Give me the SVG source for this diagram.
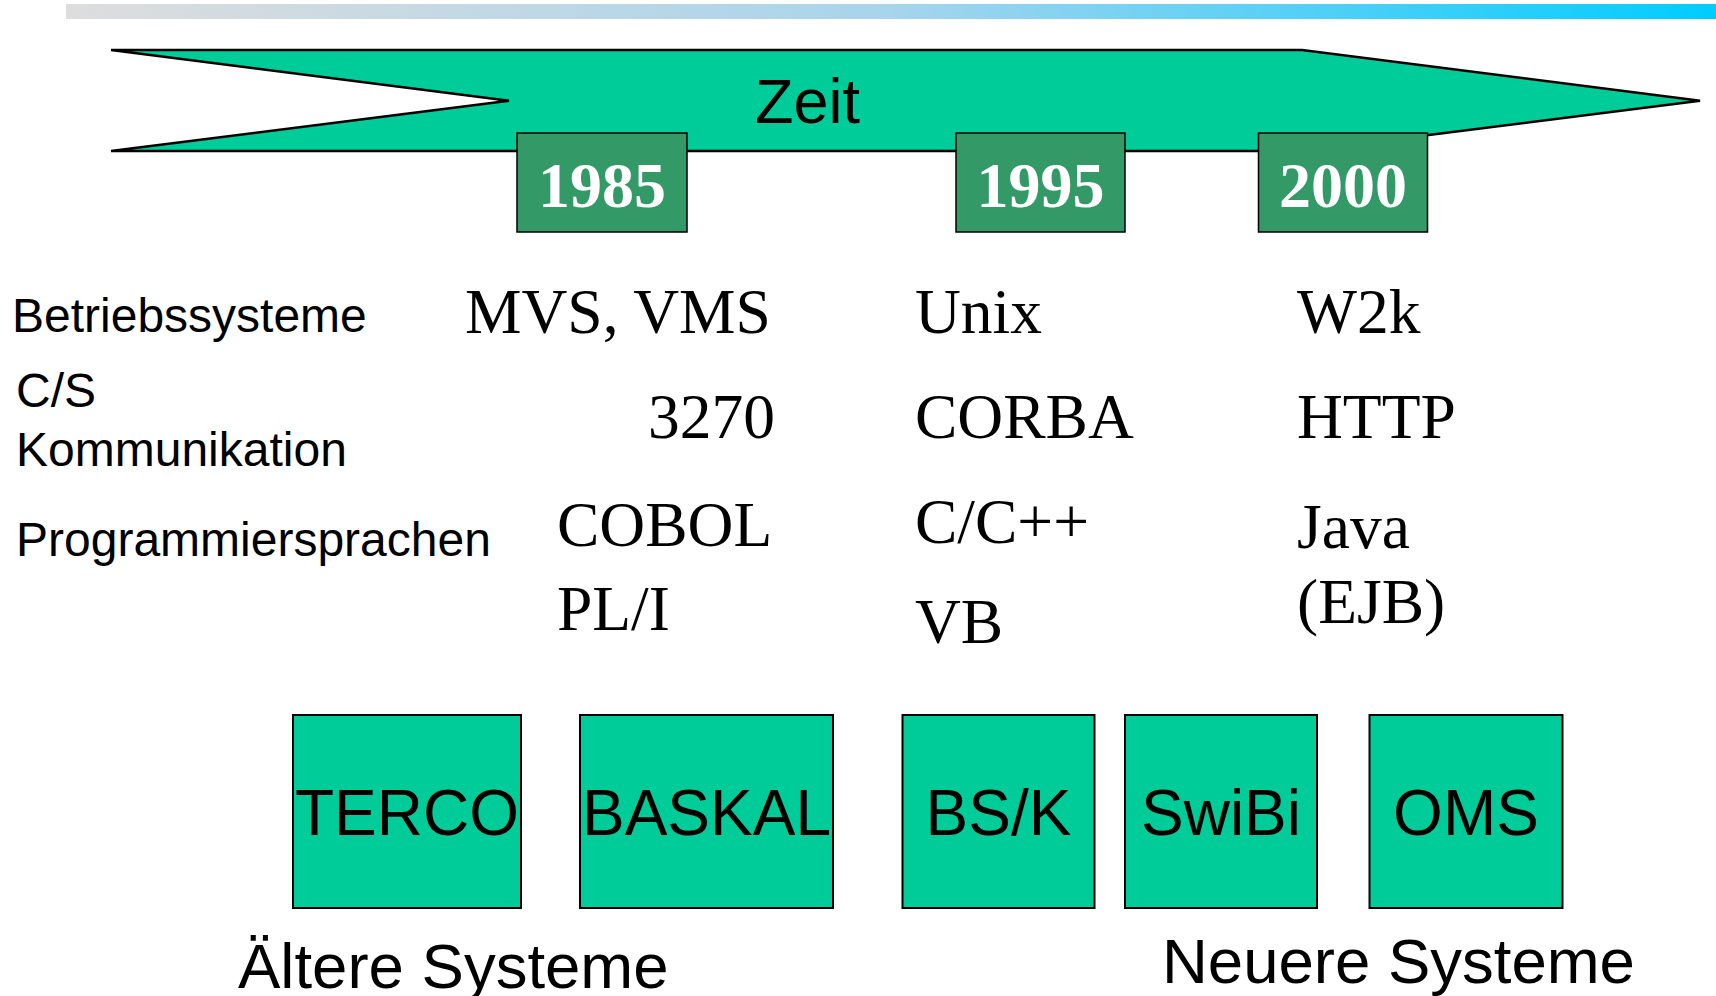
<svg xmlns="http://www.w3.org/2000/svg" width="1716" height="996" viewBox="0 0 1716 996">
  <defs>
    <linearGradient id="topbar" x1="0" y1="0" x2="1" y2="0">
      <stop offset="0" stop-color="#dddddd"/>
      <stop offset="0.5" stop-color="#a8d4ec"/>
      <stop offset="1" stop-color="#00ccff"/>
    </linearGradient>
  </defs>
  <style>
    .sans { font-family: "Liberation Sans", Arial, sans-serif; fill: #000; }
    .serif { font-family: "Liberation Serif", "Times New Roman", serif; fill: #000; font-size: 63.5px; }
    .label { font-size: 48px; }
    .year { fill: #339966; stroke: #000; stroke-width: 1.5; }
    .yeartxt { font-family: "Liberation Serif", "Times New Roman", serif; font-weight: bold; font-size: 64px; fill: #fff; text-anchor: middle; }
    .sys { fill: #00cc99; stroke: #000; stroke-width: 2; }
    .systxt { font-family: "Liberation Sans", Arial, sans-serif; font-size: 64px; fill: #000; text-anchor: middle; }
  </style>
  <rect id="topbar-rect" x="66" y="4" width="1650" height="15" fill="url(#topbar)"/>

  <g id="timeline">
    <polygon points="111,50 1302,50 1700,100.7 1302,151 111,151 509,100.7" fill="#00cc99" stroke="#000" stroke-width="2.5" stroke-linejoin="miter"/>
    <text class="sans" x="755" y="123" font-size="63">Zeit</text>
  </g>

  <g id="y1985">
    <rect class="year" x="517" y="133" width="170" height="99"/>
    <text class="yeartxt" x="602" y="207">1985</text>
  </g>
  <g id="y1995">
    <rect class="year" x="956" y="133" width="169" height="99"/>
    <text class="yeartxt" x="1040.5" y="207">1995</text>
  </g>
  <g id="y2000">
    <rect class="year" x="1258.5" y="133" width="169" height="99"/>
    <text class="yeartxt" x="1343" y="207">2000</text>
  </g>

  <g id="labels">
    <text class="sans label" x="12" y="332">Betriebssysteme</text>
    <text class="sans label" x="16" y="407">C/S</text>
    <text class="sans label" x="16" y="466">Kommunikation</text>
    <text class="sans label" x="16" y="556">Programmiersprachen</text>
  </g>

  <g id="col1985">
    <text class="serif" x="465" y="333">MVS, VMS</text>
    <text class="serif" x="648" y="438">3270</text>
    <text class="serif" x="557" y="546">COBOL</text>
    <text class="serif" x="557" y="630">PL/I</text>
  </g>
  <g id="col1995">
    <text class="serif" x="915" y="333">Unix</text>
    <text class="serif" x="915" y="438">CORBA</text>
    <text class="serif" x="915" y="543">C/C++</text>
    <text class="serif" x="915" y="643">VB</text>
  </g>
  <g id="col2000">
    <text class="serif" x="1297" y="333">W2k</text>
    <text class="serif" x="1297" y="438">HTTP</text>
    <text class="serif" x="1297" y="548">Java</text>
    <text class="serif" x="1297" y="623">(EJB)</text>
  </g>

  <g id="terco">
    <rect class="sys" x="293" y="715" width="228" height="193"/>
    <text class="systxt" x="407" y="835">TERCO</text>
  </g>
  <g id="baskal">
    <rect class="sys" x="580" y="715" width="253" height="193"/>
    <text class="systxt" x="706.5" y="835">BASKAL</text>
  </g>
  <g id="bsk">
    <rect class="sys" x="902.5" y="715" width="192" height="193"/>
    <text class="systxt" x="998.5" y="835">BS/K</text>
  </g>
  <g id="swibi">
    <rect class="sys" x="1125" y="715" width="192" height="193"/>
    <text class="systxt" x="1221" y="835">SwiBi</text>
  </g>
  <g id="oms">
    <rect class="sys" x="1369.5" y="715" width="193" height="193"/>
    <text class="systxt" x="1466" y="835">OMS</text>
  </g>

  <g id="connectors"/>

  <g id="footer">
    <text class="sans" x="238" y="988" font-size="63.5">Ältere Systeme</text>
    <text class="sans" x="1162" y="983" font-size="63.5">Neuere Systeme</text>
  </g>
</svg>
